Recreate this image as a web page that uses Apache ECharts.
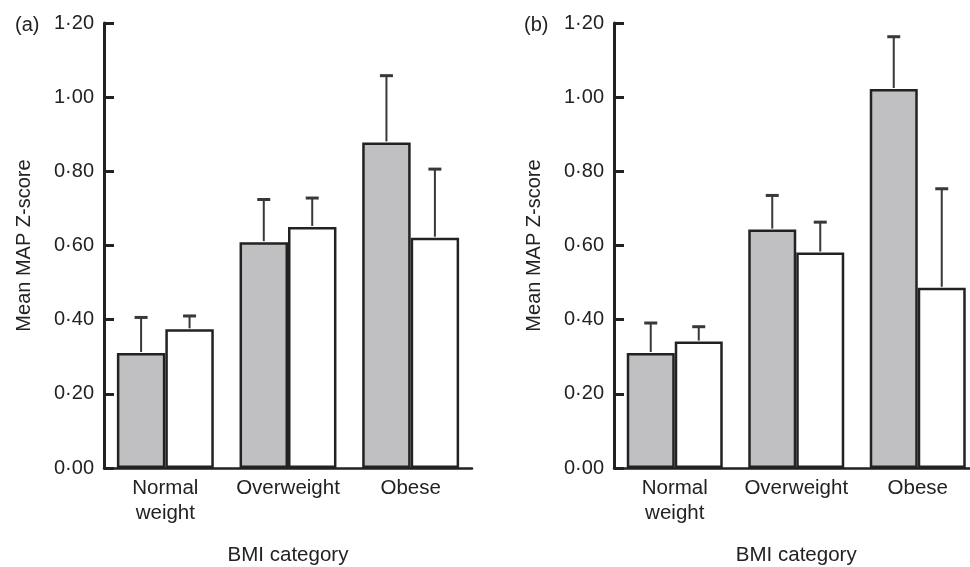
<!DOCTYPE html>
<html><head><meta charset="utf-8">
<script src="https://cdn.jsdelivr.net/npm/echarts@6/dist/echarts.min.js"></script>
<style>html,body{margin:0;padding:0;background:#fff}#c{width:970px;height:567px}</style>
</head><body><div id="c"></div>
<script>
// ---- data ----
const categories = ['Normal\nweight', 'Overweight', 'Obese'];
const yTickValues = [0, 0.2, 0.4, 0.6, 0.8, 1.0, 1.2];
const panelLabels = ['(a)', '(b)'];
const yAxisTitle = 'Mean MAP Z-score';
const xAxisTitle = 'BMI category';

// panel (a)
const aGrayMean = [0.31, 0.609, 0.878];
const aGrayErr  = [0.096, 0.115, 0.180];
const aWhiteMean = [0.374, 0.65, 0.621];
const aWhiteErr  = [0.036, 0.078, 0.185];
// panel (b)
const bGrayMean = [0.31, 0.643, 1.022];
const bGrayErr  = [0.081, 0.092, 0.141];
const bWhiteMean = [0.341, 0.581, 0.486];
const bWhiteErr  = [0.040, 0.082, 0.267];

// ---- styling ----
const CAT_GAP = 0.21;
const FONT = '"Liberation Sans", Arial, sans-serif';
const TXT = '#222';
const LINE = '#222';
const GRAY = '#c0c0c2';

const chart = echarts.init(document.getElementById('c'), null, {renderer: 'canvas'});

function fmt(v) { return v.toFixed(2).replace('.', '\u00b7'); }

function xAxis(gi) {
  return {
    type: 'category', gridIndex: gi, data: categories,
    name: xAxisTitle, nameLocation: 'middle', nameGap: 77,
    nameTextStyle: {fontSize: 20.5, color: TXT, fontFamily: FONT},
    axisLine: {lineStyle: {color: LINE, width: 2.5}},
    axisTick: {inside: true, length: 8, lineStyle: {color: LINE, width: 3}},
    axisLabel: {fontSize: 20.5, color: TXT, fontFamily: FONT, margin: 8, lineHeight: 25, interval: 0},
    splitLine: {show: false}
  };
}
function yAxis(gi) {
  return {
    type: 'value', gridIndex: gi, min: 0, max: 1.2, interval: 0.2,
    name: yAxisTitle, nameLocation: 'middle', nameGap: 70, nameRotate: 90,
    nameTextStyle: {fontSize: 20, color: TXT, fontFamily: FONT},
    axisLine: {show: true, lineStyle: {color: LINE, width: 3}},
    axisTick: {show: true, inside: true, length: 10, lineStyle: {color: LINE, width: 3}},
    axisLabel: {fontSize: 20, color: TXT, fontFamily: FONT, margin: 10,
      customValues: yTickValues, formatter: fmt},
    splitLine: {show: false}
  };
}
function bar(gi, data, color) {
  return {
    type: 'bar', xAxisIndex: gi, yAxisIndex: gi, data: data,
    barGap: '0%', barCategoryGap: (CAT_GAP * 100) + '%',
    itemStyle: {color: color, borderColor: LINE, borderWidth: 2.5},
    emphasis: {disabled: true}, z: 2
  };
}
function err(gi, means, errs, side) {
  return {
    type: 'custom', xAxisIndex: gi, yAxisIndex: gi, z: 3,
    data: means.map((m, i) => [i, m, m + errs[i]]),
    encode: {x: 0, y: [1, 2]},
    renderItem: function (params, api) {
      const i = api.value(0);
      const band = api.size([1, 0])[0];
      const bw = band * (1 - CAT_GAP) / 2;
      const x = api.coord([i, 0])[0] + side * bw / 2;
      const y0 = api.coord([i, api.value(1)])[1];
      const y1 = api.coord([i, api.value(2)])[1];
      return {type: 'group', children: [
        {type: 'line', shape: {x1: x, y1: y0 - 1, x2: x, y2: y1}, style: {stroke: '#383838', lineWidth: 2}},
        {type: 'line', shape: {x1: x - 6.5, y1: y1, x2: x + 6.5, y2: y1}, style: {stroke: '#383838', lineWidth: 3}}
      ]};
    }
  };
}

chart.setOption({
  backgroundColor: '#fff',
  animation: false,
  title: [
    {text: panelLabels[0], left: 10, top: 10, textStyle: {fontSize: 20, fontWeight: 'normal', color: TXT, fontFamily: FONT}},
    {text: panelLabels[1], left: 519, top: 10, textStyle: {fontSize: 20, fontWeight: 'normal', color: TXT, fontFamily: FONT}}
  ],
  grid: [
    {left: 104, top: 23, width: 368, height: 445, outerBoundsMode: 'none', containLabel: false},
    {left: 614, top: 23, width: 364.5, height: 445, outerBoundsMode: 'none', containLabel: false}
  ],
  xAxis: [xAxis(0), xAxis(1)],
  yAxis: [yAxis(0), yAxis(1)],
  series: [
    bar(0, aGrayMean, GRAY), bar(0, aWhiteMean, '#fff'),
    bar(1, bGrayMean, GRAY), bar(1, bWhiteMean, '#fff'),
    err(0, aGrayMean, aGrayErr, -1), err(0, aWhiteMean, aWhiteErr, 1),
    err(1, bGrayMean, bGrayErr, -1), err(1, bWhiteMean, bWhiteErr, 1)
  ]
});
</script></body></html>
